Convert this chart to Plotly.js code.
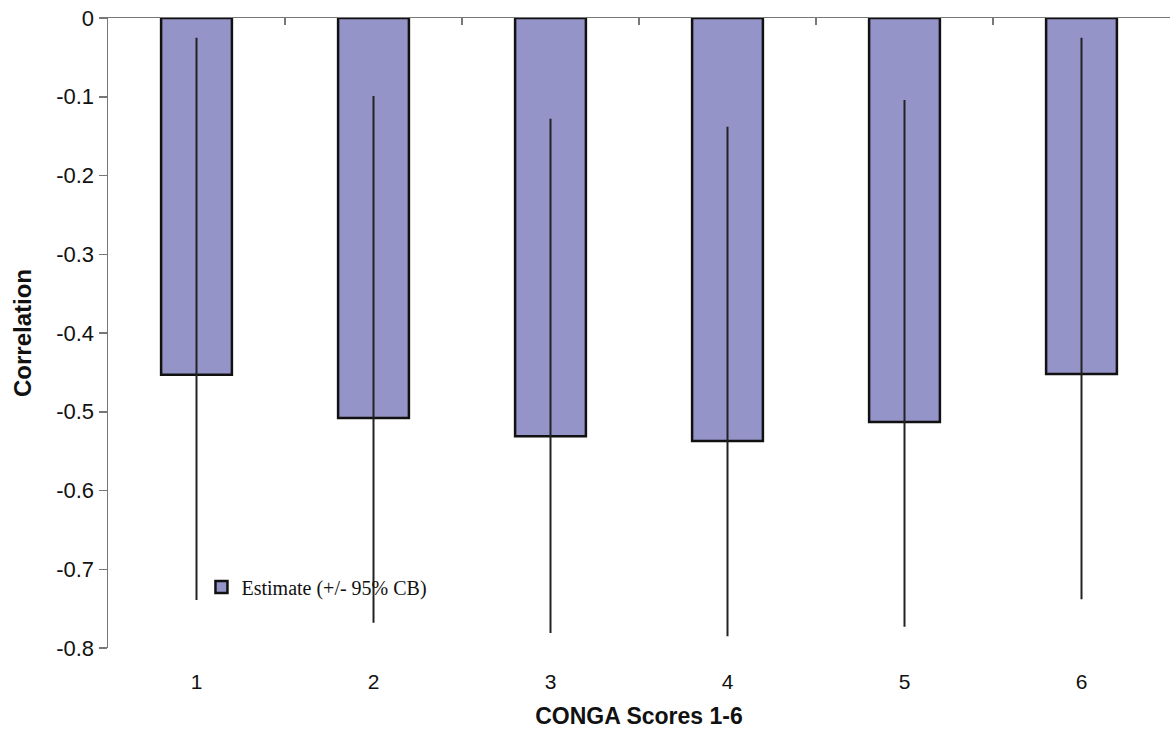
<!DOCTYPE html>
<html>
<head>
<meta charset="utf-8">
<script src="https://cdn.plot.ly/plotly-3.0.1.min.js"></script>
<style>html,body{margin:0;padding:0;background:#fff}#chart{width:1170px;height:729px}</style>
</head>
<body>
<div id="chart"></div>
<script>
const categories = ['1', '2', '3', '4', '5', '6'];
const estimates = [-0.453, -0.508, -0.531, -0.537, -0.513, -0.452];
const upperCB = [-0.025, -0.099, -0.128, -0.138, -0.104, -0.025];
const lowerCB = [-0.739, -0.768, -0.781, -0.785, -0.773, -0.738];
const yTicks = [0, -0.1, -0.2, -0.3, -0.4, -0.5, -0.6, -0.7, -0.8];

const errPlus = estimates.map((v, i) => upperCB[i] - v);
const errMinus = estimates.map((v, i) => v - lowerCB[i]);

const sans = 'Liberation Sans, Arial, sans-serif';

const trace = {
  type: 'bar',
  x: categories,
  y: estimates,
  name: 'Estimate (+/- 95% CB)',
  width: 0.4,
  marker: { color: '#9494c8', line: { color: '#111', width: 2.5 } },
  error_y: {
    type: 'data', symmetric: false,
    array: errPlus, arrayminus: errMinus,
    color: '#222', thickness: 2, width: 0
  },
  showlegend: true
};

const layout = {
  width: 1170, height: 729,
  margin: { l: 108, r: 0, t: 18, b: 81, autoexpand: false },
  paper_bgcolor: '#fff', plot_bgcolor: '#fff',
  showlegend: true,
  legend: {
    x: 0.088, y: 0.097, xanchor: 'left', yanchor: 'middle',
    font: { family: 'Liberation Serif, Times New Roman, serif', size: 20, color: '#111' },
    bgcolor: 'rgba(0,0,0,0)', itemwidth: 30
  },
  xaxis: {
    type: 'category', range: [-0.5, 5.5],
    showline: false, ticks: '', showgrid: false, zeroline: false,
    tickfont: { family: sans, size: 21, color: '#111' },
    ticklabelstandoff: 19, automargin: false,
    title: { text: '<b>CONGA Scores 1-6</b>', font: { family: sans, size: 23, color: '#111' }, standoff: 15 }
  },
  xaxis2: {
    type: 'category', range: [-0.5, 5.5], overlaying: 'x', side: 'top', anchor: 'y',
    showline: true, linecolor: '#777', linewidth: 1.5,
    ticks: 'inside', tickson: 'boundaries', ticklen: 7, tickcolor: '#777', tickwidth: 1.5,
    showticklabels: false, showgrid: false, zeroline: false
  },
  yaxis: {
    range: [-0.8, 0], tickvals: yTicks, ticktext: yTicks.map(v => v === 0 ? '0' : v.toFixed(1)),
    showline: true, linecolor: '#777', linewidth: 1.5,
    ticks: 'outside', ticklen: 8, tickcolor: '#777', tickwidth: 1.5,
    showgrid: false, zeroline: false, automargin: false,
    tickfont: { family: sans, size: 22, color: '#111' },
    title: { text: '<b>Correlation</b>', font: { family: sans, size: 24, color: '#111' }, standoff: 18 }
  }
};

const axisTrace = { type: 'bar', x: categories, y: categories.map(() => null), xaxis: 'x2', yaxis: 'y', showlegend: false, hoverinfo: 'skip' };

Plotly.newPlot('chart', [trace, axisTrace], layout, { staticPlot: true });
</script>
</body>
</html>
